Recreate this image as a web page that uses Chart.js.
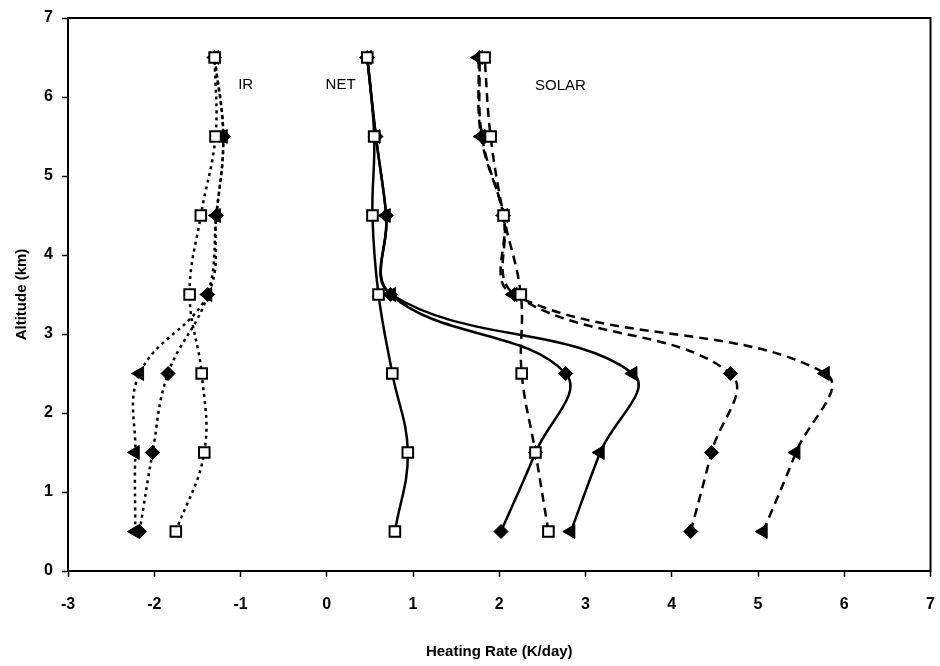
<!DOCTYPE html>
<html lang="en">
<head>
    <meta charset="UTF-8">
    <title>Heating Rate profiles</title>
    <script src="https://cdn.jsdelivr.net/npm/chart.js"></script>
    <style>
        body {
            margin: 0;
            background: #fff;
        }
        .chart-container {
            position: relative;
            width: 940px;
            height: 666px;
        }
    </style>
</head>
<body>
    <div class="chart-container">
        <canvas id="heatingChart"></canvas>
    </div>

    <script>
        // altitude levels (km)
        const altitude = [0.5, 1.5, 2.5, 3.5, 4.5, 5.5, 6.5];

        // heating rates (K/day), bottom to top
        const irSquare = [-1.75, -1.42, -1.45, -1.59, -1.46, -1.29, -1.30];
        const irDiamond = [-2.17, -2.02, -1.84, -1.38, -1.28, -1.20, -1.30];
        const irTriangle = [-2.22, -2.22, -2.17, -1.38, -1.28, -1.20, -1.30];

        const netSquare = [0.79, 0.94, 0.76, 0.60, 0.53, 0.55, 0.47];
        const netDiamond = [2.02, 2.42, 2.77, 0.74, 0.69, 0.57, 0.47];
        const netTriangle = [2.83, 3.17, 3.55, 0.75, 0.69, 0.57, 0.47];

        const solarSquare = [2.57, 2.42, 2.26, 2.25, 2.05, 1.90, 1.83];
        const solarDiamond = [4.22, 4.46, 4.68, 2.18, 2.05, 1.80, 1.77];
        const solarTriangle = [5.06, 5.44, 5.78, 2.16, 2.05, 1.79, 1.76];

        const xTicks = [-3, -2, -1, 0, 1, 2, 3, 4, 5, 6, 7];
        const yTicks = [0, 1, 2, 3, 4, 5, 6, 7];

        // text labels, placed in data units
        const curveLabels = [
            { text: 'IR', x: -0.94, y: 6.15 },
            { text: 'NET', x: 0.16, y: 6.15 },
            { text: 'SOLAR', x: 2.71, y: 6.14 }
        ];

        const toPoints = (vals) => vals.map((v, i) => ({ x: v, y: altitude[i] }));

        const dotted = [3, 4];
        const dashed = [9, 6];

        const series = (vals, marker, dash, width) => {
            const s = {
                data: toPoints(vals),
                borderColor: '#000',
                borderWidth: width,
                borderDash: dash,
                tension: 0.4,
                pointBorderColor: '#000',
                pointBorderWidth: 2,
                pointBackgroundColor: '#000',
                pointRadius: 7,
                pointRotation: 0,
                pointStyle: marker
            };
            if (marker === 'rect') {
                s.pointBackgroundColor = '#fff';
                s.pointRadius = 7.5;
            }
            if (marker === 'triangle') {
                s.pointRotation = -90;
                s.pointBorderWidth = 1;
                s.pointRadius = 8;
            }
            if (marker === 'rectRot') {
                s.pointBorderWidth = 1;
                s.pointRadius = 7;
            }
            return s;
        };

        const frame = {
            id: 'frame',
            afterDraw(chart) {
                const { ctx, chartArea: a } = chart;
                ctx.save();
                ctx.strokeStyle = '#000';
                ctx.lineWidth = 2;
                ctx.strokeRect(a.left, a.top, a.right - a.left, a.bottom - a.top);
                ctx.restore();
            }
        };

        const labelsPlugin = {
            id: 'curveLabels',
            afterDatasetsDraw(chart) {
                const { ctx, scales } = chart;
                ctx.save();
                ctx.fillStyle = '#000';
                ctx.font = '15px "Liberation Sans", Arial, sans-serif';
                ctx.textAlign = 'center';
                ctx.textBaseline = 'middle';
                curveLabels.forEach(l => {
                    ctx.fillText(l.text, scales.x.getPixelForValue(l.x), scales.y.getPixelForValue(l.y));
                });
                ctx.restore();
            }
        };

        const tickFont = { family: '"Liberation Sans", Arial, sans-serif', size: 16, weight: 'bold' };
        const titleFont = { family: '"Liberation Sans Narrow", "Liberation Sans", Arial, sans-serif', size: 15, weight: 'bold' };

        const heatingChart = new Chart(document.getElementById('heatingChart'), {
            type: 'line',
            data: {
                datasets: [
                    series(irSquare, 'rect', dotted, 2.5),
                    series(netSquare, 'rect', [], 2.5),
                    series(solarSquare, 'rect', dashed, 2.5),
                    series(irDiamond, 'rectRot', dotted, 2.5),
                    series(irTriangle, 'triangle', dotted, 2.5),
                    series(netDiamond, 'rectRot', [], 2.5),
                    series(netTriangle, 'triangle', [], 2.5),
                    series(solarDiamond, 'rectRot', dashed, 2.5),
                    series(solarTriangle, 'triangle', dashed, 2.5)
                ]
            },
            options: {
                responsive: true,
                maintainAspectRatio: false,
                animation: false,
                layout: {
                    padding: { top: 18, right: 5, left: 0, bottom: 0 }
                },
                plugins: {
                    legend: { display: false },
                    tooltip: { enabled: false }
                },
                scales: {
                    x: {
                        type: 'linear',
                        min: -3,
                        max: 7,
                        afterBuildTicks: (scale) => { scale.ticks = xTicks.map(v => ({ value: v })); },
                        afterFit: (scale) => {
                            scale.height = 95;
                            scale.paddingLeft = 0;
                            scale.paddingRight = 0;
                        },
                        ticks: { color: '#000', font: tickFont, padding: 18 },
                        grid: { drawOnChartArea: false, drawTicks: true, tickLength: 6, tickColor: '#000', tickWidth: 1.5 },
                        border: { color: '#000', width: 2 },
                        title: {
                            display: true,
                            text: 'Heating Rate (K/day)',
                            color: '#000',
                            font: titleFont,
                            padding: { top: 0, bottom: 5 }
                        }
                    },
                    y: {
                        type: 'linear',
                        min: 0,
                        max: 7,
                        afterBuildTicks: (scale) => { scale.ticks = yTicks.map(v => ({ value: v })); },
                        afterFit: (scale) => {
                            scale.width = 68;
                            scale.paddingTop = 0;
                            scale.paddingBottom = 0;
                        },
                        ticks: { color: '#000', font: tickFont, padding: 9 },
                        grid: { drawOnChartArea: false, drawTicks: true, tickLength: 6, tickColor: '#000', tickWidth: 1.5 },
                        border: { color: '#000', width: 2 },
                        title: {
                            display: true,
                            text: 'Altitude (km)',
                            color: '#000',
                            font: titleFont,
                            padding: { top: 13, bottom: 0 }
                        }
                    }
                }
            },
            plugins: [frame, labelsPlugin]
        });
    </script>
</body>
</html>
